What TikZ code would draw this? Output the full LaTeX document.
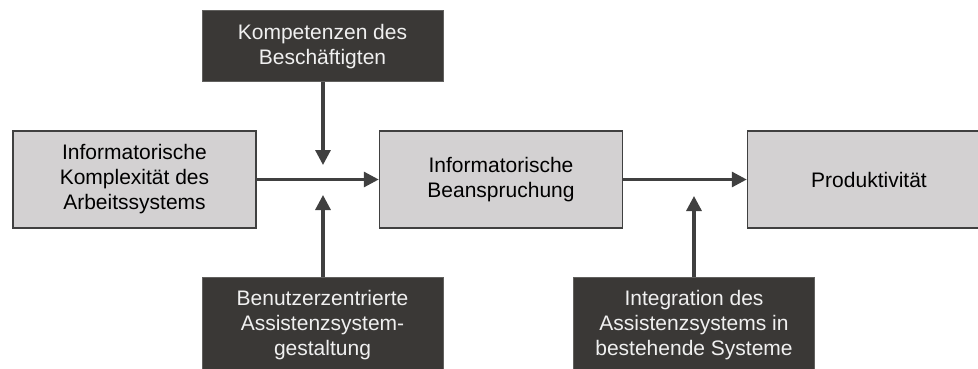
\documentclass[tikz,border=0pt]{standalone}
\usepackage{fontspec}
\setmainfont{Liberation Sans}
\usetikzlibrary{arrows.meta}
\definecolor{boxgray}{HTML}{D3D1D2}
\definecolor{boxdark}{HTML}{3A3836}
\definecolor{linegray}{HTML}{404040}
\begin{document}
\begin{tikzpicture}[x=1pt, y=-1pt,
  every node/.style={font=\fontsize{21}{25}\selectfont, align=center, inner sep=0pt},
  graybox/.style={draw=linegray, line width=1.5pt, fill=boxgray, minimum width=243pt, minimum height=97pt},
  darkbox/.style={draw=boxdark!80!white, line width=1pt, fill=boxdark, text=white!94!black, minimum width=241pt},
  flow/.style={draw=linegray, line width=3.2pt, -{Triangle[length=15pt, width=15pt]}}]
\clip (0,0) rectangle (978,369);
\fill[white] (0,0) rectangle (978,369);
\node[graybox] (kompl) at (134.5,179.5) {Informatorische\\Komplexität des\\Arbeitssystems};
\node[graybox] (beans) at (501,179.5) {Informatorische\\Beanspruchung};
\node[graybox] (prod) at (869,179.5) {Produktivität};
\node[darkbox, minimum height=71pt] (komp) at (322.5,46.5) {Kompetenzen des\\Beschäftigten};
\node[darkbox, minimum height=97pt] (benutz) at (322.5,325.5) {Benutzerzentrierte\\Assistenzsystem-\\gestaltung};
\node[darkbox, minimum height=97pt] (integ) at (694,325.5) {Integration des\\Assistenzsystems in\\bestehende Systeme};
\coordinate (kompend) at (323,165);
\coordinate (benutzend) at (323,195);
\coordinate (integend) at (694,196);
\draw[flow] (kompl.east) -- (beans.west);
\draw[flow] (beans.east) -- (prod.west);
\draw[flow] (komp.south -| kompend) -- (kompend);
\draw[flow] (benutz.north -| benutzend) -- (benutzend);
\draw[flow] (integ.north -| integend) -- (integend);
\end{tikzpicture}
\end{document}
